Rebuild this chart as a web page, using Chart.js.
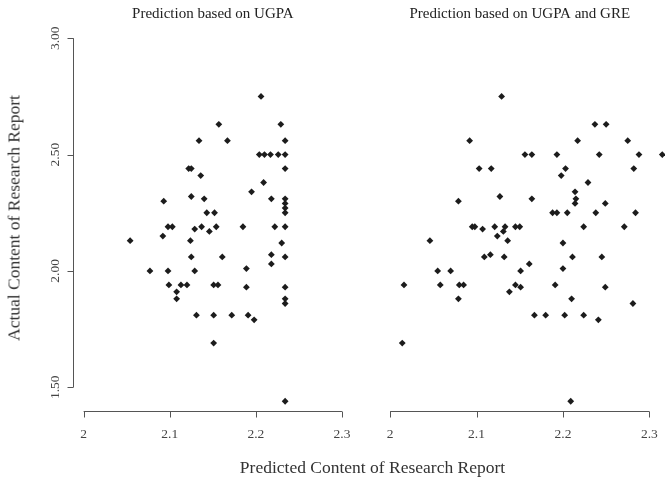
<!DOCTYPE html>
<html>
<head>
<meta charset="utf-8">
<script src="https://cdn.jsdelivr.net/npm/chart.js@4.4.1/dist/chart.umd.min.js"></script>
<style>
  body { margin: 0; background: #fff; }
  #wrap { position: relative; width: 665px; height: 481px; font-family: "Liberation Serif", "DejaVu Serif", serif; }
  #leftBox { position: absolute; left: 0; top: 0; width: 360px; height: 481px; }
  #rightBox { position: absolute; left: 365px; top: 0; width: 300px; height: 481px; }
  .xtitle { position: absolute; left: 0; width: 745px; top: 457px; text-align: center; font-size: 17.5px; color: #333; }
  .ytitle { position: absolute; left: 14px; top: 218px; transform: translate(-50%, -50%) rotate(-90deg); white-space: nowrap; font-size: 17.5px; color: #333; }
</style>
</head>
<body>
<div id="wrap">
  <div id="leftBox"><canvas id="ugpaChart"></canvas></div>
  <div id="rightBox"><canvas id="bothChart"></canvas></div>
  <div class="xtitle">Predicted Content of Research Report</div>
  <div class="ytitle">Actual Content of Research Report</div>
</div>
<script>
// predicted vs actual, model with UGPA only
const predUgpa = [2.206, 2.157, 2.229, 2.134, 2.167, 2.234, 2.204, 2.210, 2.217, 2.226,
  2.234, 2.122, 2.125, 2.234, 2.136, 2.209, 2.195, 2.125, 2.093, 2.140,
  2.218, 2.234, 2.234, 2.234, 2.143, 2.152, 2.234, 2.098, 2.103, 2.129,
  2.137, 2.146, 2.154, 2.185, 2.222, 2.234, 2.092, 2.054, 2.124, 2.230,
  2.125, 2.161, 2.218, 2.234, 2.218, 2.189, 2.077, 2.098, 2.129, 2.099,
  2.113, 2.120, 2.151, 2.156, 2.108, 2.108, 2.189, 2.234, 2.234, 2.234,
  2.131, 2.151, 2.172, 2.191, 2.198, 2.151, 2.234];
const actualUgpa = [2.75, 2.63, 2.63, 2.56, 2.56, 2.56, 2.50, 2.50, 2.50, 2.50,
  2.50, 2.44, 2.44, 2.44, 2.41, 2.38, 2.34, 2.32, 2.30, 2.31,
  2.31, 2.31, 2.29, 2.27, 2.25, 2.25, 2.25, 2.19, 2.19, 2.18,
  2.19, 2.17, 2.19, 2.19, 2.19, 2.19, 2.15, 2.13, 2.13, 2.12,
  2.06, 2.06, 2.07, 2.06, 2.03, 2.01, 2.00, 2.00, 2.00, 1.94,
  1.94, 1.94, 1.94, 1.94, 1.91, 1.88, 1.93, 1.93, 1.88, 1.86,
  1.81, 1.81, 1.81, 1.81, 1.79, 1.69, 1.44];

// predicted vs actual, model with UGPA and GRE
const predBoth = [2.129, 2.092, 2.103, 2.117, 2.127, 2.079, 2.095, 2.098, 2.121, 2.133,
  2.145, 2.150, 2.107, 2.131, 2.124, 2.237, 2.250, 2.217, 2.275, 2.156,
  2.164, 2.193, 2.242, 2.288, 2.315, 2.203, 2.282, 2.198, 2.229, 2.214,
  2.215, 2.164, 2.214, 2.249, 2.188, 2.193, 2.205, 2.238, 2.284, 2.224,
  2.271, 2.046, 2.136, 2.109, 2.116, 2.132, 2.161, 2.151, 2.055, 2.070,
  2.016, 2.058, 2.080, 2.085, 2.079, 2.145, 2.151, 2.138, 2.014, 2.200,
  2.211, 2.245, 2.200, 2.191, 2.249, 2.210, 2.281, 2.167, 2.180, 2.202,
  2.224, 2.241, 2.209];
const actualBoth = [2.75, 2.56, 2.44, 2.44, 2.32, 2.30, 2.19, 2.19, 2.19, 2.19,
  2.19, 2.19, 2.18, 2.17, 2.15, 2.63, 2.63, 2.56, 2.56, 2.50,
  2.50, 2.50, 2.50, 2.50, 2.50, 2.44, 2.44, 2.41, 2.38, 2.34,
  2.31, 2.31, 2.29, 2.29, 2.25, 2.25, 2.25, 2.25, 2.25, 2.19,
  2.19, 2.13, 2.13, 2.06, 2.07, 2.06, 2.03, 2.00, 2.00, 2.00,
  1.94, 1.94, 1.94, 1.94, 1.88, 1.94, 1.93, 1.91, 1.69, 2.12,
  2.06, 2.06, 2.01, 1.94, 1.93, 1.88, 1.86, 1.81, 1.81, 1.81,
  1.81, 1.79, 1.44];

const xTicks = [2, 2.1, 2.2, 2.3];
const yTicks = [1.5, 2.0, 2.5, 3.0];

const serif = '"Liberation Serif", "DejaVu Serif", serif';

// base-R style axes: lines only span the tick range, ticks point outward
const rAxes = {
  id: 'rAxes',
  afterDraw(chart, args, opts) {
    const c = chart.ctx, xs = chart.scales.x, ys = chart.scales.y, area = chart.chartArea;
    c.save();
    c.strokeStyle = '#555';
    c.fillStyle = '#444';
    c.lineWidth = 1;
    c.font = '13.5px ' + serif;

    // x axis
    const xy = 411.5;
    c.beginPath();
    c.moveTo(xs.getPixelForValue(xTicks[0]), xy);
    c.lineTo(xs.getPixelForValue(xTicks[xTicks.length - 1]), xy);
    xTicks.forEach(t => {
      const px = Math.round(xs.getPixelForValue(t)) + 0.5;
      c.moveTo(px, xy);
      c.lineTo(px, xy + 6);
    });
    c.stroke();
    c.textAlign = 'center';
    c.textBaseline = 'middle';
    xTicks.forEach(t => c.fillText(String(t), xs.getPixelForValue(t), 434));

    // y axis only on the first panel
    if (opts.yAxis) {
      const yx = Math.round(area.left) + 0.5;
      c.beginPath();
      c.moveTo(yx, ys.getPixelForValue(yTicks[0]));
      c.lineTo(yx, ys.getPixelForValue(yTicks[yTicks.length - 1]));
      yTicks.forEach(t => {
        const py = Math.round(ys.getPixelForValue(t)) + 0.5;
        c.moveTo(yx, py);
        c.lineTo(yx - 6, py);
      });
      c.stroke();
      yTicks.forEach(t => {
        c.save();
        c.translate(yx - 18, ys.getPixelForValue(t));
        c.rotate(-Math.PI / 2);
        c.fillText(t.toFixed(2), 0, 0);
        c.restore();
      });
    }

    // panel title
    c.fillStyle = '#222';
    c.font = '15px ' + serif;
    c.fillText(opts.title, (area.left + area.right) / 2, 14);
    c.restore();
  }
};

function scatter(id, xs, ys, title, padding, yAxis) {
  return new Chart(document.getElementById(id), {
    type: 'scatter',
    data: {
      datasets: [{
        data: xs.map((x, i) => ({ x: x, y: ys[i] })),
        pointStyle: 'rectRot',
        pointRadius: 3.4,
        pointHoverRadius: 3.4,
        backgroundColor: '#1c1c1c',
        borderColor: '#1c1c1c',
        borderWidth: 0,
        clip: false
      }]
    },
    options: {
      responsive: false,
      animation: false,
      layout: { padding: padding },
      scales: {
        x: { type: 'linear', min: 1.988, max: 2.312, display: false },
        y: { type: 'linear', min: 1.395, max: 3.06, display: false }
      },
      plugins: {
        legend: { display: false },
        tooltip: { enabled: false },
        rAxes: { title: title, yAxis: yAxis }
      }
    },
    plugins: [rAxes]
  });
}

const left = document.getElementById('ugpaChart');
left.width = 360; left.height = 481;
const right = document.getElementById('bothChart');
right.width = 300; right.height = 481;

scatter('ugpaChart', predUgpa, actualUgpa, 'Prediction based on UGPA',
  { left: 73.3, right: 7.7, top: 24.3, bottom: 69.3 }, true);
scatter('bothChart', predBoth, actualBoth, 'Prediction based on UGPA and GRE',
  { left: 14.8, right: 5.3, top: 24.3, bottom: 69.3 }, false);
</script>
</body>
</html>
